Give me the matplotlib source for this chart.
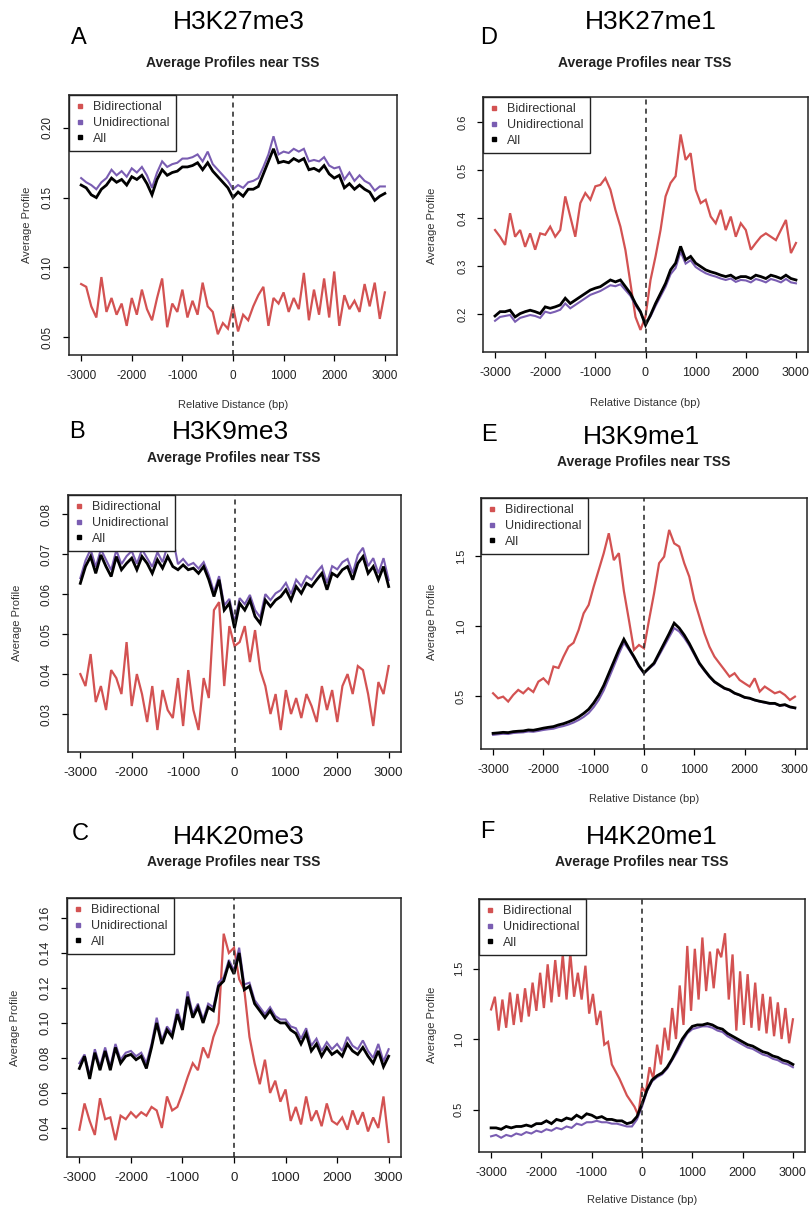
import numpy as np
import matplotlib.pyplot as plt
from matplotlib.lines import Line2D

plt.rcParams["font.family"] = ["Liberation Sans", "DejaVu Sans"]

W, H = 809, 1211
RED = "#d35252"
PURPLE = "#7a5db2"
BLACK = "black"

# profiles, every 100 bp from -3000 to 3000 (H4K20me1 bidirectional every 75 bp)
k27me3_bi = [0.088, 0.086, 0.072, 0.064, 0.093, 0.068, 0.078, 0.066, 0.074, 0.058,
             0.078, 0.066, 0.084, 0.070, 0.062, 0.078, 0.092, 0.057, 0.074, 0.068,
             0.084, 0.064, 0.076, 0.066, 0.089, 0.072, 0.068, 0.052, 0.060, 0.056,
             0.072,
             0.054, 0.066, 0.062, 0.072, 0.080, 0.086, 0.058, 0.078, 0.074, 0.082,
             0.068, 0.078, 0.070, 0.096, 0.062, 0.084, 0.066, 0.092, 0.064, 0.097,
             0.058, 0.080, 0.070, 0.076, 0.068, 0.088, 0.072, 0.089, 0.063, 0.082]
k27me3_uni = [0.164, 0.161, 0.159, 0.156, 0.161, 0.164, 0.170, 0.166, 0.169, 0.165,
              0.171, 0.168, 0.172, 0.166, 0.157, 0.168, 0.176, 0.172, 0.174, 0.175,
              0.178, 0.178, 0.179, 0.181, 0.176, 0.183, 0.174, 0.170, 0.166, 0.162,
              0.156,
              0.159, 0.157, 0.161, 0.162, 0.164, 0.172, 0.181, 0.194, 0.181, 0.183,
              0.182, 0.185, 0.183, 0.185, 0.176, 0.177, 0.176, 0.179, 0.173, 0.171,
              0.172, 0.163, 0.168, 0.162, 0.166, 0.162, 0.160, 0.155, 0.158, 0.158]
k27me3_all = [0.159, 0.157, 0.152, 0.150, 0.156, 0.159, 0.164, 0.161, 0.163, 0.159,
              0.165, 0.163, 0.166, 0.160, 0.152, 0.163, 0.170, 0.166, 0.168, 0.169,
              0.172, 0.172, 0.173, 0.175, 0.170, 0.175, 0.169, 0.165, 0.161, 0.157,
              0.150,
              0.154, 0.151, 0.156, 0.156, 0.158, 0.167, 0.176, 0.185, 0.175, 0.176,
              0.175, 0.178, 0.176, 0.178, 0.170, 0.171, 0.169, 0.173, 0.167, 0.164,
              0.166, 0.157, 0.160, 0.156, 0.159, 0.156, 0.154, 0.148, 0.151, 0.153]

k9me3_bi = [0.040, 0.037, 0.045, 0.033, 0.037, 0.031, 0.041, 0.039, 0.035, 0.048,
            0.032, 0.040, 0.035, 0.028, 0.037, 0.026, 0.036, 0.031, 0.029, 0.039,
            0.027, 0.041, 0.031, 0.026, 0.039, 0.034, 0.056, 0.058, 0.037, 0.052,
            0.047,
            0.048, 0.052, 0.043, 0.051, 0.041, 0.037, 0.030, 0.035, 0.026, 0.036,
            0.030, 0.034, 0.029, 0.035, 0.032, 0.028, 0.037, 0.031, 0.036, 0.028,
            0.037, 0.040, 0.035, 0.042, 0.041, 0.035, 0.027, 0.038, 0.035, 0.042]
k9me3_uni = [0.0640, 0.0684, 0.0712, 0.0668, 0.0712, 0.0686, 0.0660, 0.0710, 0.0675, 0.0695,
             0.0708, 0.0676, 0.0712, 0.0690, 0.0668, 0.0705, 0.0680, 0.0722, 0.0740, 0.0675,
             0.0688, 0.0672, 0.0678, 0.0664, 0.0680, 0.0648, 0.0605, 0.0645, 0.0572, 0.0588,
             0.0530,
             0.0590, 0.0575, 0.0598, 0.0560, 0.0542, 0.0600, 0.0585, 0.0602, 0.0610, 0.0628,
             0.0600, 0.0636, 0.0620, 0.0645, 0.0636, 0.0655, 0.0670, 0.0628, 0.0670, 0.0662,
             0.0680, 0.0688, 0.0652, 0.0698, 0.0716, 0.0670, 0.0690, 0.0652, 0.0690, 0.0635]
k9me3_all = [0.0627, 0.0669, 0.0694, 0.0652, 0.0698, 0.0669, 0.0644, 0.0694, 0.0661, 0.0677,
             0.0690, 0.0661, 0.0694, 0.0677, 0.0652, 0.0686, 0.0665, 0.0694, 0.0669, 0.0661,
             0.0673, 0.0661, 0.0665, 0.0652, 0.0669, 0.0636, 0.0594, 0.0636, 0.0560, 0.0577,
             0.0515,
             0.0577, 0.0560, 0.0585, 0.0544, 0.0527, 0.0585, 0.0569, 0.0585, 0.0594, 0.0611,
             0.0585, 0.0619, 0.0602, 0.0627, 0.0619, 0.0636, 0.0652, 0.0611, 0.0652, 0.0644,
             0.0661, 0.0669, 0.0636, 0.0677, 0.0694, 0.0652, 0.0669, 0.0636, 0.0669, 0.0619]

k20me3_bi = [0.039, 0.054, 0.044, 0.036, 0.057, 0.045, 0.046, 0.033, 0.047, 0.045,
             0.049, 0.046, 0.049, 0.047, 0.052, 0.050, 0.040, 0.058, 0.050, 0.052,
             0.060, 0.069, 0.077, 0.073, 0.086, 0.080, 0.092, 0.100, 0.151, 0.140,
             0.143,
             0.125, 0.119, 0.092, 0.077, 0.065, 0.079, 0.060, 0.067, 0.055, 0.062,
             0.044, 0.052, 0.042, 0.058, 0.044, 0.050, 0.041, 0.054, 0.044, 0.042,
             0.046, 0.039, 0.050, 0.042, 0.049, 0.038, 0.046, 0.040, 0.058, 0.032]
k20me3_uni = [0.077, 0.082, 0.070, 0.085, 0.075, 0.086, 0.075, 0.088, 0.079, 0.083,
              0.084, 0.081, 0.083, 0.077, 0.088, 0.103, 0.090, 0.098, 0.094, 0.108,
              0.098, 0.118, 0.105, 0.111, 0.102, 0.111, 0.109, 0.123, 0.126, 0.136,
              0.130,
              0.143, 0.122, 0.123, 0.113, 0.109, 0.105, 0.109, 0.104, 0.102, 0.102,
              0.098, 0.097, 0.091, 0.097, 0.087, 0.091, 0.084, 0.089, 0.085, 0.088,
              0.084, 0.092, 0.087, 0.085, 0.090, 0.084, 0.080, 0.088, 0.078, 0.085]
k20me3_all = [0.074, 0.081, 0.068, 0.083, 0.073, 0.084, 0.073, 0.086, 0.077, 0.081,
              0.082, 0.079, 0.081, 0.074, 0.086, 0.100, 0.088, 0.096, 0.092, 0.105,
              0.096, 0.115, 0.103, 0.109, 0.100, 0.109, 0.107, 0.121, 0.124, 0.134,
              0.128,
              0.140, 0.119, 0.121, 0.111, 0.107, 0.103, 0.107, 0.102, 0.100, 0.100,
              0.096, 0.094, 0.088, 0.094, 0.084, 0.088, 0.081, 0.086, 0.082, 0.084,
              0.081, 0.088, 0.084, 0.082, 0.086, 0.081, 0.077, 0.084, 0.075, 0.081]

k27me1_bi = [0.375, 0.361, 0.344, 0.410, 0.361, 0.375, 0.340, 0.368, 0.334, 0.368,
             0.365, 0.382, 0.361, 0.375, 0.445, 0.403, 0.361, 0.431, 0.452, 0.438,
             0.466, 0.469, 0.483, 0.459, 0.417, 0.382, 0.333, 0.264, 0.194, 0.167,
             0.195,
             0.271, 0.320, 0.375, 0.445, 0.473, 0.487, 0.574, 0.521, 0.535, 0.459,
             0.431, 0.438, 0.403, 0.389, 0.417, 0.375, 0.403, 0.361, 0.389, 0.375,
             0.334, 0.348, 0.361, 0.368, 0.361, 0.354, 0.375, 0.396, 0.327, 0.348]
k27me1_uni = [0.186, 0.194, 0.196, 0.198, 0.184, 0.192, 0.195, 0.198, 0.196, 0.192,
              0.205, 0.202, 0.205, 0.209, 0.222, 0.212, 0.219, 0.226, 0.233, 0.240,
              0.244, 0.248, 0.254, 0.260, 0.258, 0.262, 0.250, 0.238, 0.218, 0.203,
              0.180,
              0.195, 0.217, 0.237, 0.257, 0.283, 0.296, 0.330, 0.305, 0.312, 0.298,
              0.291, 0.285, 0.281, 0.278, 0.274, 0.271, 0.274, 0.267, 0.271, 0.270,
              0.266, 0.273, 0.270, 0.266, 0.273, 0.270, 0.266, 0.273, 0.266, 0.264]
k27me1_all = [0.196, 0.205, 0.205, 0.208, 0.194, 0.201, 0.205, 0.208, 0.205, 0.201,
              0.215, 0.212, 0.215, 0.219, 0.233, 0.222, 0.229, 0.236, 0.243, 0.250,
              0.254, 0.257, 0.264, 0.271, 0.267, 0.271, 0.257, 0.243, 0.222, 0.205,
              0.177,
              0.198, 0.222, 0.243, 0.264, 0.292, 0.306, 0.341, 0.313, 0.320, 0.306,
              0.299, 0.292, 0.288, 0.285, 0.281, 0.278, 0.281, 0.274, 0.278, 0.278,
              0.274, 0.281, 0.278, 0.274, 0.281, 0.278, 0.274, 0.281, 0.274, 0.271]

k9me1_bi = [0.519, 0.483, 0.495, 0.460, 0.507, 0.543, 0.519, 0.555, 0.528, 0.602,
            0.626, 0.588, 0.710, 0.700, 0.781, 0.852, 0.880, 0.971, 1.090, 1.150,
            1.281, 1.400, 1.520, 1.662, 1.470, 1.520, 1.250, 1.043, 0.829, 0.864,
            0.840,
            1.043, 1.233, 1.448, 1.495, 1.686, 1.590, 1.567, 1.448, 1.352, 1.186,
            1.067, 0.948, 0.852, 0.781, 0.733, 0.686, 0.638, 0.662, 0.614, 0.590,
            0.567, 0.626, 0.531, 0.567, 0.543, 0.519, 0.531, 0.507, 0.471, 0.495]
k9me1_uni = [0.222, 0.226, 0.230, 0.228, 0.235, 0.238, 0.240, 0.246, 0.244, 0.250,
             0.257, 0.262, 0.266, 0.277, 0.285, 0.296, 0.310, 0.328, 0.350, 0.378,
             0.420, 0.472, 0.540, 0.625, 0.712, 0.800, 0.880, 0.830, 0.772, 0.708,
             0.660,
             0.695, 0.725, 0.790, 0.855, 0.920, 0.985, 0.960, 0.915, 0.860, 0.795,
             0.728, 0.680, 0.636, 0.598, 0.575, 0.552, 0.540, 0.518, 0.505, 0.488,
             0.482, 0.469, 0.460, 0.452, 0.445, 0.444, 0.430, 0.435, 0.420, 0.412]
k9me1_all = [0.233, 0.236, 0.240, 0.238, 0.245, 0.248, 0.250, 0.257, 0.255, 0.262,
             0.270, 0.276, 0.281, 0.293, 0.302, 0.315, 0.330, 0.350, 0.375, 0.405,
             0.450, 0.505, 0.575, 0.660, 0.745, 0.830, 0.905, 0.840, 0.780, 0.715,
             0.665,
             0.700, 0.735, 0.805, 0.875, 0.945, 1.020, 0.985, 0.935, 0.875, 0.805,
             0.735, 0.686, 0.640, 0.602, 0.578, 0.555, 0.543, 0.520, 0.507, 0.490,
             0.484, 0.471, 0.462, 0.455, 0.447, 0.447, 0.432, 0.438, 0.422, 0.415]

k20me1_bi = [1.21, 1.30, 1.06, 1.28, 1.08, 1.33, 1.10, 1.32, 1.12, 1.36,
             1.16, 1.40, 1.20, 1.47, 1.22, 1.53, 1.26, 1.56, 1.30, 1.60,
             1.28, 1.61, 1.30, 1.47, 1.28, 1.52, 1.18, 1.32, 1.10, 1.20,
             0.96, 0.98, 0.82, 0.77, 0.72, 0.66, 0.60, 0.56, 0.52, 0.46,
             0.66,
             0.62, 0.80, 0.72, 0.96, 0.82, 1.08, 0.92, 1.22, 1.00, 1.38,
             1.10, 1.66, 1.20, 1.64, 1.28, 1.72, 1.34, 1.62, 1.36, 1.64,
             1.58, 1.75, 1.28, 1.60, 1.06, 1.48, 1.10, 1.46, 1.08, 1.40,
             1.06, 1.32, 1.04, 1.30, 1.02, 1.26, 1.00, 1.22, 0.97, 1.14]
k20me1_uni = [0.31, 0.32, 0.30, 0.32, 0.31, 0.33, 0.32, 0.34, 0.33, 0.35,
              0.34, 0.36, 0.35, 0.37, 0.36, 0.38, 0.37, 0.40, 0.39, 0.41,
              0.41, 0.42, 0.41, 0.41, 0.40, 0.40, 0.39, 0.38, 0.38, 0.43,
              0.52,
              0.63, 0.70, 0.73, 0.75, 0.79, 0.85, 0.91, 0.98, 1.04, 1.07,
              1.08, 1.09, 1.09, 1.08, 1.06, 1.05, 1.02, 1.00, 0.98, 0.96,
              0.94, 0.93, 0.91, 0.89, 0.88, 0.86, 0.85, 0.83, 0.82, 0.80]
k20me1_all = [0.37, 0.37, 0.36, 0.38, 0.37, 0.38, 0.38, 0.39, 0.38, 0.40,
              0.40, 0.42, 0.40, 0.43, 0.42, 0.44, 0.43, 0.46, 0.44, 0.47,
              0.46, 0.44, 0.45, 0.43, 0.43, 0.42, 0.42, 0.40, 0.41, 0.45,
              0.54,
              0.64, 0.71, 0.74, 0.76, 0.80, 0.86, 0.93, 1.00, 1.05, 1.09,
              1.10, 1.10, 1.11, 1.10, 1.08, 1.07, 1.04, 1.02, 1.00, 0.98,
              0.96, 0.95, 0.93, 0.91, 0.90, 0.88, 0.87, 0.85, 0.84, 0.82]

xticks = [-3000, -2000, -1000, 0, 1000, 2000, 3000]

panels = [
    dict(mark="H3K27me3", letter="A", bi=k27me3_bi, uni=k27me3_uni, al=k27me3_all,
         box=(69, 95, 397, 355), ylim=(0.0371, 0.2236),
         yticks=[0.05, 0.10, 0.15, 0.20], fmt="%.2f",
         title=(239, 22), letter_xy=(79, 38), sub=(233, 63),
         ylab=(27, 225), xlab=(233, 405), xts=8.5, yts=8.5),
    dict(mark="H3K9me3", letter="B", bi=k9me3_bi, uni=k9me3_uni, al=k9me3_all,
         box=(68, 495, 401, 752), ylim=(0.0205, 0.0848),
         yticks=[0.03, 0.04, 0.05, 0.06, 0.07, 0.08], fmt="%.2f",
         title=(230, 432), letter_xy=(77, 432), sub=(234, 458),
         ylab=(17, 623), xlab=None, xts=9.5, yts=8.5),
    dict(mark="H4K20me3", letter="C", bi=k20me3_bi, uni=k20me3_uni, al=k20me3_all,
         box=(67, 898, 401, 1157), ylim=(0.0234, 0.1714),
         yticks=[0.04, 0.06, 0.08, 0.10, 0.12, 0.14, 0.16], fmt="%.2f",
         title=(239, 837), letter_xy=(80, 834), sub=(234, 862),
         ylab=(15, 1028), xlab=None, xts=9.5, yts=9.0),
    dict(mark="H3K27me1", letter="D", bi=k27me1_bi, uni=k27me1_uni, al=k27me1_all,
         box=(483, 97, 808, 352), ylim=(0.121, 0.652),
         yticks=[0.2, 0.3, 0.4, 0.5, 0.6], fmt="%.1f",
         title=(651, 22), letter_xy=(489, 38), sub=(645, 63),
         ylab=(432, 226), xlab=(645, 403), xts=9.0, yts=8.0),
    dict(mark="H3K9me1", letter="E", bi=k9me1_bi, uni=k9me1_uni, al=k9me1_all,
         box=(481, 498, 807, 749), ylim=(0.121, 1.914),
         yticks=[0.5, 1.0, 1.5], fmt="%.1f",
         title=(641, 437), letter_xy=(489, 435), sub=(644, 462),
         ylab=(432, 622), xlab=(644, 799), xts=9.0, yts=8.0),
    dict(mark="H4K20me1", letter="F", bi=k20me1_bi, uni=k20me1_uni, al=k20me1_all,
         box=(479, 899, 805, 1152), ylim=(0.199, 1.993),
         yticks=[0.5, 1.0, 1.5], fmt="%.1f",
         title=(652, 837), letter_xy=(487, 832), sub=(642, 862),
         ylab=(432, 1025), xlab=(642, 1200), xts=9.0, yts=8.0),
]

fig = plt.figure(figsize=(W / 100, H / 100), dpi=100)


def fx(x):
    return x / W


def fy(y):
    return 1 - y / H


for p in panels:
    l, t, r, b = p["box"]
    ax = fig.add_axes([fx(l), fy(b), (r - l) / W, (b - t) / H])

    for vals, col, lw in [(p["bi"], RED, 1.6), (p["uni"], PURPLE, 1.5), (p["al"], BLACK, 2.0)]:
        xs = np.linspace(-3000, 3000, len(vals))
        ax.plot(xs, vals, color=col, lw=lw, solid_joinstyle="miter")

    ax.axvline(0, color="#333333", lw=1.2, ls=(0, (3, 2.5)))
    ax.set_xlim(-3240, 3240)
    ax.set_ylim(*p["ylim"])
    ax.set_xticks(xticks)
    ax.set_xticklabels([str(v) for v in xticks], fontsize=p["xts"], color="#222222")
    ax.set_yticks(p["yticks"])
    ax.set_yticklabels([p["fmt"] % v for v in p["yticks"]], fontsize=p["yts"],
                       rotation=90, va="center", color="#222222")
    ax.tick_params(direction="out", length=4, width=0.9, pad=7)
    for s in ax.spines.values():
        s.set_linewidth(1.1)
        s.set_color("#222222")

    handles = [Line2D([], [], ls="none", marker="s", ms=3.5, color=c)
               for c in (RED, PURPLE, BLACK)]
    leg = ax.legend(handles, ["Bidirectional", "Unidirectional", "All"],
                    loc="upper left", borderaxespad=0, fancybox=False,
                    fontsize=9, handlelength=0.8, handletextpad=0.6,
                    labelspacing=0.3, borderpad=0.5, framealpha=1)
    leg.get_frame().set_edgecolor("#222222")
    leg.get_frame().set_linewidth(1.0)
    for txt in leg.get_texts():
        txt.set_color("#333333")

    fig.text(fx(p["title"][0]), fy(p["title"][1]), p["mark"], fontsize=19,
             ha="center", va="center")
    fig.text(fx(p["letter_xy"][0]), fy(p["letter_xy"][1]), p["letter"], fontsize=17,
             ha="center", va="center")
    fig.text(fx(p["sub"][0]), fy(p["sub"][1]), "Average Profiles near TSS",
             fontsize=10, fontweight="bold", ha="center", va="center", color="#222222")
    fig.text(fx(p["ylab"][0]), fy(p["ylab"][1]), "Average Profile", fontsize=8,
             rotation=90, ha="center", va="center", color="#333333")
    if p["xlab"] is not None:
        fig.text(fx(p["xlab"][0]), fy(p["xlab"][1]), "Relative Distance (bp)",
                 fontsize=8, ha="center", va="center", color="#333333")

fig.savefig("out.png", dpi=100)
